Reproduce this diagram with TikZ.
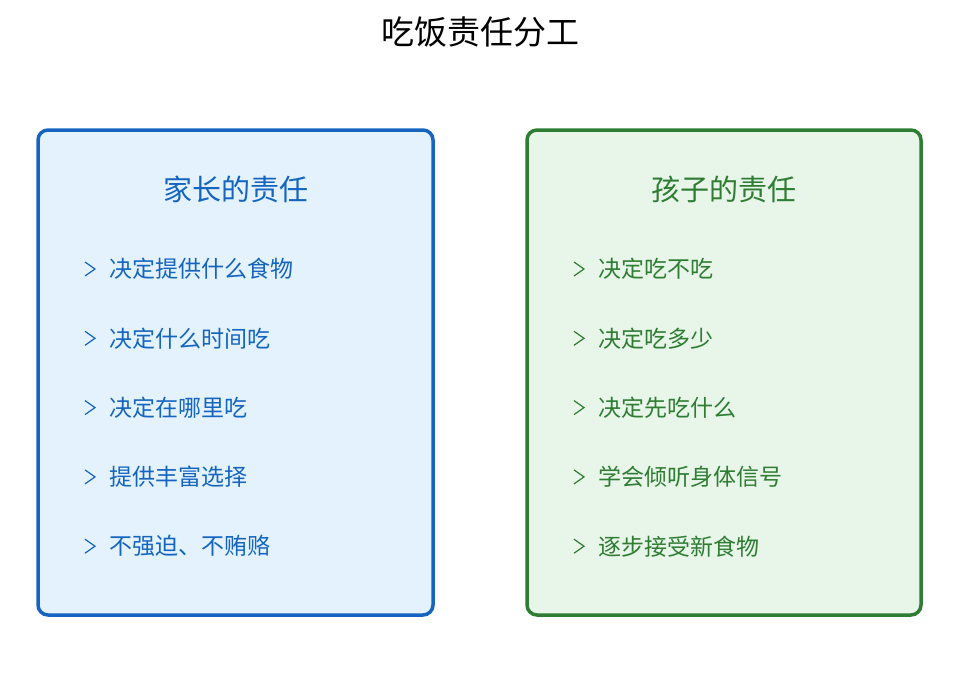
\documentclass[tikz,border=0pt]{standalone}
\usepackage{fontspec}
\setmainfont{Noto Sans CJK SC}
\definecolor{bblue}{HTML}{1565C0}
\definecolor{fblue}{HTML}{E3F2FD}
\definecolor{bgreen}{HTML}{2E7D32}
\definecolor{fgreen}{HTML}{E8F5E9}
\begin{document}
\begin{tikzpicture}[x=1pt,y=-1pt,
  panel/.style={draw=#1, line width=3.5pt, rounded corners=10pt},
  heading/.style={font=\fontsize{29}{33}\selectfont, inner sep=0pt},
  item/.style={font=\fontsize{23}{27}\selectfont, inner sep=0pt, anchor=west},
  chev/.style={line width=1.2pt, line join=miter}]
\useasboundingbox (0,0) rectangle (959,677);
\node[font=\fontsize{33}{37}\selectfont, inner sep=0pt] (title) at (480,32) {吃饭责任分工};
% left panel
\path[panel=bblue, fill=fblue] (38,130) rectangle (433,615);
\node[heading, text=bblue] (lh) at (235.5,189) {家长的责任};
\foreach \t [count=\i] in {决定提供什么食物,决定什么时间吃,决定在哪里吃,提供丰富选择,不强迫、不贿赂}{
  \pgfmathsetmacro{\yy}{269+69.3*(\i-1)}
  \node[item, text=bblue] (l\i) at (109,\yy) {\t};
  \coordinate (lc\i) at (85,\yy);
  \draw[chev, bblue] ([yshift=-7pt]lc\i) -- ([xshift=10pt]lc\i) -- ([yshift=7pt]lc\i);
}
% right panel
\path[panel=bgreen, fill=fgreen] (527,130) rectangle (921,615);
\node[heading, text=bgreen] (rh) at (724,189) {孩子的责任};
\foreach \t [count=\i] in {决定吃不吃,决定吃多少,决定先吃什么,学会倾听身体信号,逐步接受新食物}{
  \pgfmathsetmacro{\yy}{269+69.3*(\i-1)}
  \node[item, text=bgreen] (r\i) at (598,\yy) {\t};
  \coordinate (rc\i) at (574,\yy);
  \draw[chev, bgreen] ([yshift=-7pt]rc\i) -- ([xshift=10pt]rc\i) -- ([yshift=7pt]rc\i);
}
\end{tikzpicture}
\end{document}
